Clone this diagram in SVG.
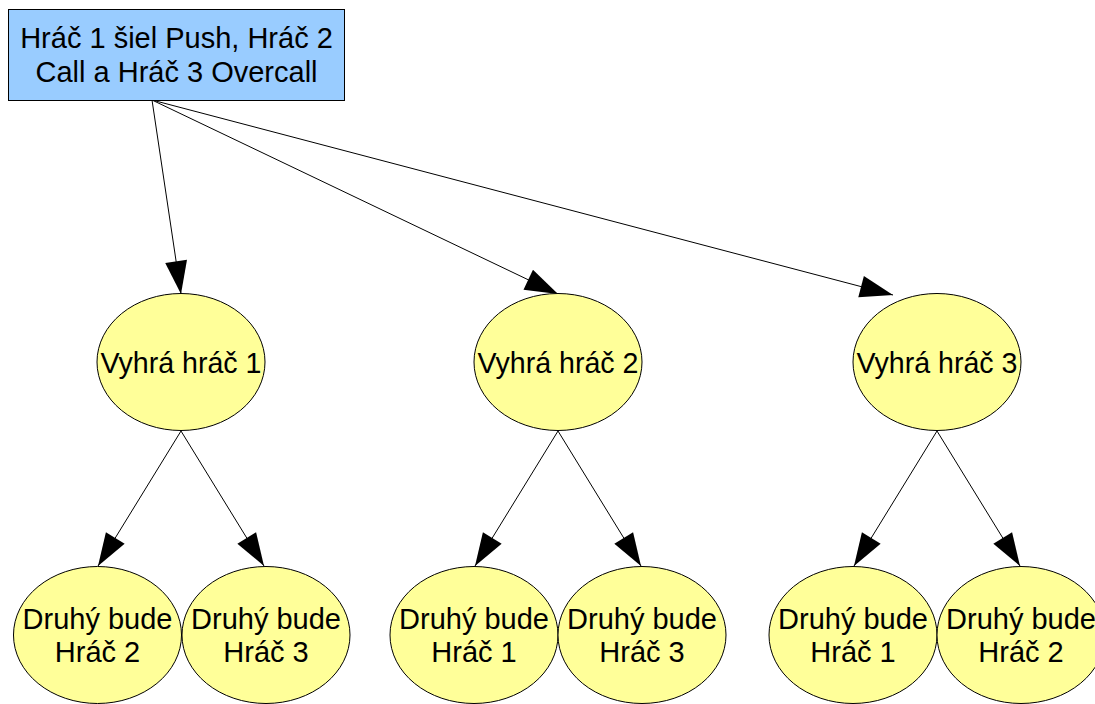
<svg xmlns="http://www.w3.org/2000/svg" width="1095" height="704" viewBox="0 0 1095 704">
<defs>
<style>
text{font-family:"Liberation Sans",Arial,sans-serif;font-size:29px;fill:#000;text-anchor:middle}
.n ellipse{fill:#ffff99;stroke:#000;stroke-width:1}
.e line{stroke:#000;stroke-width:1;marker-end:url(#ah)}
</style>
<marker id="ah" markerUnits="userSpaceOnUse" markerWidth="34" markerHeight="24" refX="33" refY="11" orient="auto" viewBox="0 0 34 24" overflow="visible">
<path d="M0,0 L33,11 L0,22 Z" fill="#000"/>
</marker>
</defs>
<rect width="1095" height="704" fill="#fff"/>
<g class="e">
<line x1="152" y1="100" x2="181" y2="294"/>
<line x1="152" y1="100" x2="558" y2="294"/>
<line x1="152" y1="100" x2="893" y2="295"/>
<line x1="181" y1="431" x2="98" y2="566"/>
<line x1="181" y1="431" x2="264" y2="566"/>
<line x1="558" y1="431" x2="475" y2="566"/>
<line x1="558" y1="431" x2="641" y2="566"/>
<line x1="937" y1="431" x2="854" y2="566"/>
<line x1="937" y1="431" x2="1020" y2="566"/>
</g>
<g id="root">
<rect x="8.5" y="9.5" width="336" height="91" fill="#99ccff" stroke="#000" stroke-width="1"/>
<text x="176.5" y="48">Hráč 1 šiel Push, Hráč 2</text>
<text x="176.5" y="82">Call a Hráč 3 Overcall</text>
</g>
<g id="w1" class="n"><ellipse cx="181" cy="362" rx="84" ry="68.5"/><text x="181" y="373" style="font-size:28.6px">Vyhrá hráč 1</text></g>
<g id="w2" class="n"><ellipse cx="558" cy="362" rx="84" ry="68.5"/><text x="558" y="373" style="font-size:28.6px">Vyhrá hráč 2</text></g>
<g id="w3" class="n"><ellipse cx="937" cy="362" rx="84" ry="68.5"/><text x="937" y="373" style="font-size:28.6px">Vyhrá hráč 3</text></g>
<g id="w1a" class="n"><ellipse cx="97.5" cy="635" rx="84" ry="68.5"/><text x="97.5" y="629">Druhý bude</text><text x="97.5" y="662">Hráč 2</text></g>
<g id="w1b" class="n"><ellipse cx="266" cy="635" rx="84" ry="68.5"/><text x="266" y="629">Druhý bude</text><text x="266" y="662">Hráč 3</text></g>
<g id="w2a" class="n"><ellipse cx="474" cy="635" rx="84" ry="68.5"/><text x="474" y="629">Druhý bude</text><text x="474" y="662">Hráč 1</text></g>
<g id="w2b" class="n"><ellipse cx="642" cy="635" rx="84" ry="68.5"/><text x="642" y="629">Druhý bude</text><text x="642" y="662">Hráč 3</text></g>
<g id="w3a" class="n"><ellipse cx="853" cy="635" rx="84" ry="68.5"/><text x="853" y="629">Druhý bude</text><text x="853" y="662">Hráč 1</text></g>
<g id="w3b" class="n"><ellipse cx="1021" cy="635" rx="84" ry="68.5"/><text x="1021" y="629">Druhý bude</text><text x="1021" y="662">Hráč 2</text></g>
</svg>
